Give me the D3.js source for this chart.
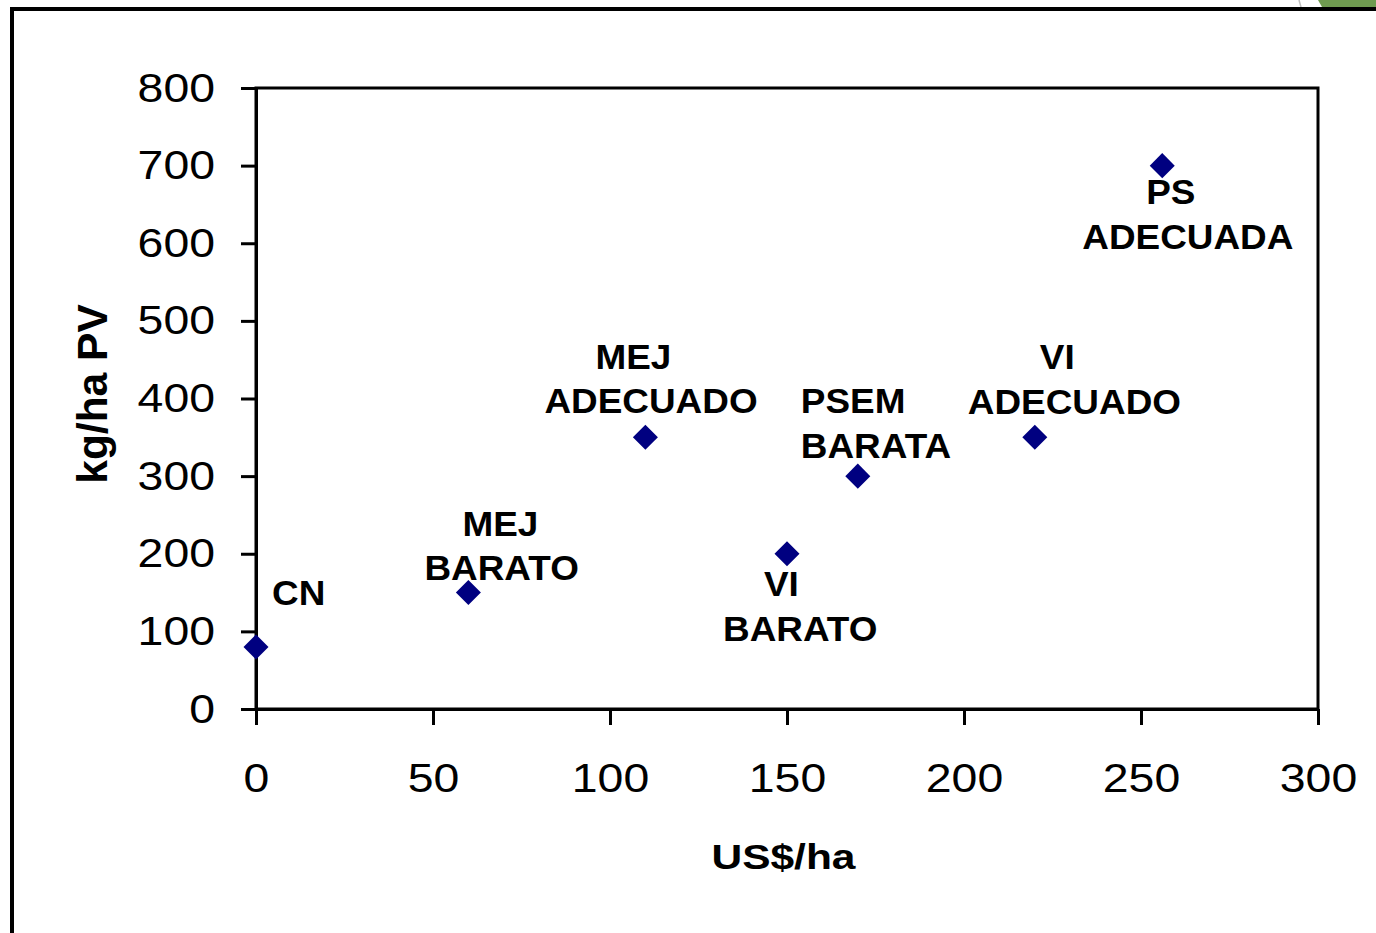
<!DOCTYPE html>
<html>
<head>
<meta charset="utf-8">
<script src="https://cdn.jsdelivr.net/npm/d3@7"></script>
<style>
  html, body { margin: 0; padding: 0; background: #fff; }
  svg { display: block; }
  text { font-family: "Liberation Sans", Arial, sans-serif; fill: #000; }
</style>
</head>
<body>
<svg id="chart" width="1376" height="933"></svg>
<script>
// ---- data ----
const names   = ["CN", "MEJ BARATO", "MEJ ADECUADO", "VI BARATO", "PSEM BARATA", "VI ADECUADO", "PS ADECUADA"];
const costs   = [0, 60, 110, 150, 170, 220, 256];      // US$/ha
const gains   = [80, 150, 350, 200, 300, 350, 700];     // kg/ha PV
const labelLines = [["CN"], ["MEJ", "BARATO"], ["MEJ", "ADECUADO"], ["VI", "BARATO"], ["PSEM", "BARATA"], ["VI", "ADECUADO"], ["PS", "ADECUADA"]];
const xTicks = [0, 50, 100, 150, 200, 250, 300];
const yTicks = [0, 100, 200, 300, 400, 500, 600, 700, 800];
const xTitle = "US$/ha";
const yTitle = "kg/ha PV";

// ---- label placement (pixel offsets of each line's start/baseline from its point) ----
const labelOffsets = [
  [[16, -42]],
  [[-6, -57], [-44, -13]],
  [[-50, -68], [-101, -24]],
  [[-23, 42], [-64, 87]],
  [[-57, -63], [-57, -18]],
  [[5, -68], [-67, -23]],
  [[-16, 38], [-80, 83]]
];

const svg = d3.select("#chart");

// outer frame and top-right decoration
svg.append("polygon").attr("points", "1318,0 1376,0 1376,7 1322,7").attr("fill", "#6f9b50");
svg.append("line").attr("x1", 1299).attr("y1", 0).attr("x2", 1301).attr("y2", 7)
  .attr("stroke", "#c0c0c0").attr("stroke-width", 1.5);
svg.append("path").attr("d", "M12,933 L12,9 L1376,9").attr("fill", "none")
  .attr("stroke", "#000").attr("stroke-width", 4);

const x = d3.scaleLinear().domain([0, 300]).range([256, 1318]);
const y = d3.scaleLinear().domain([0, 800]).range([709, 88]);

// plot frame
svg.append("rect").attr("x", x(0)).attr("y", y(800))
  .attr("width", x(300) - x(0)).attr("height", y(0) - y(800))
  .attr("fill", "none").attr("stroke", "#000").attr("stroke-width", 3);

const TICK_SX = 1.16;

// y axis
const gy = svg.append("g").attr("transform", `translate(${x(0)},0)`)
  .call(d3.axisLeft(y).tickValues(yTicks).tickSize(15).tickSizeOuter(0).tickFormat(d3.format("d")));
gy.select(".domain").attr("stroke", "#000").attr("stroke-width", 3);
gy.selectAll(".tick line").attr("stroke", "#000").attr("stroke-width", 3);
gy.selectAll(".tick text")
  .attr("x", 0).attr("dy", null)
  .attr("y", 13)
  .attr("transform", `translate(-41,0) scale(${TICK_SX},1)`)
  .attr("text-anchor", "end")
  .style("font-size", "40px").style("font-family", "'Liberation Sans', Arial, sans-serif").attr("fill", "#000");

// x axis
const gx = svg.append("g").attr("transform", `translate(0,${y(0)})`)
  .call(d3.axisBottom(x).tickValues(xTicks).tickSize(16).tickSizeOuter(0).tickFormat(d3.format("d")));
gx.select(".domain").attr("stroke", "#000").attr("stroke-width", 3);
gx.selectAll(".tick line").attr("stroke", "#000").attr("stroke-width", 3);
gx.selectAll(".tick text")
  .attr("y", 0).attr("dy", null)
  .attr("transform", `translate(0,83) scale(${TICK_SX},1)`)
  .attr("text-anchor", "middle")
  .style("font-size", "40px").style("font-family", "'Liberation Sans', Arial, sans-serif").attr("fill", "#000");

// axis titles
svg.append("text")
  .attr("transform", `translate(783.5,869) scale(1.18,1)`)
  .attr("text-anchor", "middle")
  .style("font-size", "36px").style("font-weight", "bold")
  .text(xTitle);

svg.append("text")
  .attr("transform", `translate(107,394) rotate(-90)`)
  .attr("text-anchor", "middle")
  .style("font-size", "42.5px").style("font-weight", "bold")
  .text(yTitle);

// points
const pts = names.map((n, i) => ({ name: n, cx: costs[i], gy: gains[i], lines: labelLines[i], offs: labelOffsets[i] }));

svg.append("g").selectAll("path.pt").data(pts).join("path")
  .attr("class", "pt")
  .attr("d", d3.symbol().type(d3.symbolSquare).size(313))
  .attr("transform", d => `translate(${x(d.cx)},${y(d.gy)}) rotate(45)`)
  .attr("fill", "#000080");

// labels
const lg = svg.append("g");
pts.forEach(d => {
  d.lines.forEach((t, j) => {
    const [dx, dy] = d.offs[j];
    lg.append("text")
      .attr("transform", `translate(${x(d.cx) + dx},${y(d.gy) + dy}) scale(1.07,1)`)
      .attr("text-anchor", "start")
      .style("font-size", "34.5px").style("font-weight", "bold")
      .text(t);
  });
});
</script>
</body>
</html>
